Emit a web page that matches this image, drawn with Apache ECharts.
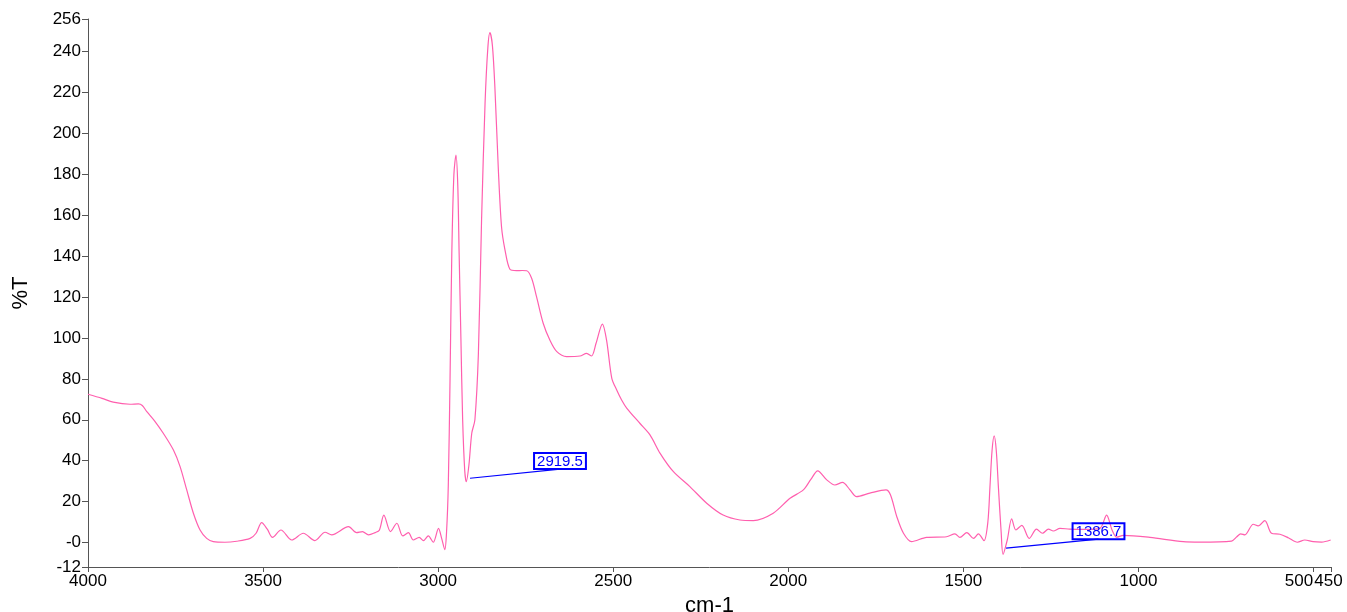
<!DOCTYPE html>
<html>
<head>
<meta charset="utf-8">
<script src="https://cdn.jsdelivr.net/npm/echarts@6/dist/echarts.min.js"></script>
<style>html,body{margin:0;padding:0;background:#fff}#c{width:1347px;height:612px}</style>
</head>
<body>
<div id="c"></div>
<script>
// wavenumber (cm-1)
const wavenumbers = [4000,3960,3928,3880,3856,3845,3832,3810,3785,3756,3737,3718,3699,3680,3661,3642,3609,3575,3537,3520,3504,3488,3473,3449,3418,3385,3352,3323,3304,3256,3233,3216,3199,3180,3168,3155,3136,3118,3101,3085,3071,3054,3042,3028,3014,2999,2990,2981,2976,2971,2966,2961,2955,2949,2944,2940,2935,2930,2924,2919.5,2912,2904,2895,2885,2876,2866,2858,2852,2845,2838,2828,2819,2809,2795,2776,2760,2747,2733,2719,2700,2681,2661,2633,2595,2576,2562,2549,2531,2519,2504,2490,2476,2461,2424,2395,2366,2328,2281,2233,2186,2138,2100,2043,1995,1957,1935,1916,1890,1867,1845,1825,1805,1767,1721,1708,1690,1671,1648,1605,1548,1524,1510,1490,1471,1457,1441,1430,1424,1418,1412,1406,1400,1392,1386.7,1374.6,1362,1350,1333,1312,1291,1274,1257,1243,1224,1196,1150,1110,1091,1075,1062,1043,967,872,824,734,719,708,696,672,658,639,620,596,572,546,525,501,477,451];
// transmittance (%T)
const transmittance = [72.5,70.5,68.6,67.6,67.8,67.0,64.0,59.5,53.4,45.2,37.1,25.7,14.3,6.1,2.0,0.4,0.1,0.6,2.0,4.5,9.7,6.5,2.5,6.1,1.2,4.5,0.9,5.0,3.7,7.7,4.8,5.3,3.7,4.8,6.0,13.4,5.3,9.4,3.2,4.8,1.2,2.5,0.9,3.2,0.1,6.9,2.0,-3.5,5,28,80,141,180,189.5,175,141,100,60,35,29.7,38,53.4,60,92.5,157.7,214.8,242,249.3,243,222.9,182.2,154.4,143,133.6,132.9,133,132.9,129.2,120.2,107.2,99.0,93.3,90.9,91.2,92.5,91.2,97.4,106.8,99.0,80.3,74.6,69.7,65.6,58.3,52.6,43.6,34.6,27.3,19.2,13.4,11.0,10.7,14.3,21.6,25.7,31,35.0,30.6,28.1,29.4,26,22.4,24.1,25.7,23.2,12.6,4.5,0.4,2.5,2.8,4.2,2.5,4.8,2.0,4.2,0.9,10,27.3,45,52.1,45,27.3,5,-5.8,1.2,11.6,6.1,8.4,2.0,6.5,4.5,6.5,5.6,6.9,6.5,6.4,6.9,13.4,6,2.6,3.5,2.5,0.4,0.2,0.7,2.8,4.2,3.7,8.9,8.1,10.7,4.5,4.0,2.3,0.1,1.2,0.4,0.2,1.2];
const xTicks = [4000,3500,3000,2500,2000,1500,1000,500,450];
const yTicks = [-12,0,20,40,60,80,100,120,140,160,180,200,220,240,256];
const annotationLabels = ['2919.5','1386.7'];
const annotationFrom = [[2909,31.4],[1378,-2.8]];
const annotationTo = [[2652,35.9],[1114,1.6]];

const FONT = 'Liberation Sans, Arial, sans-serif';
const chart = echarts.init(document.getElementById('c'), null, {renderer:'canvas'});
const data = wavenumbers.map((w,i)=>[w, transmittance[i]]);
const axisLineColor = '#555';
chart.setOption({
  animation:false,
  backgroundColor:'#fff',
  grid:{left:88,right:16,top:19,bottom:45,containLabel:false,outerBoundsMode:'none'},
  xAxis:{
    type:'value', inverse:true, min:450, max:4000,
    name:'cm-1', nameLocation:'middle', nameGap:24,
    nameTextStyle:{fontFamily:FONT,fontSize:22,color:'#000'},
    axisLine:{show:true,onZero:false,lineStyle:{color:axisLineColor,width:1}},
    axisTick:{show:true,length:5,customValues:xTicks,lineStyle:{color:axisLineColor}},
    axisLabel:{
      customValues:xTicks, hideOverlap:false, margin:6,
      fontFamily:FONT,fontSize:17,color:'#000',
      formatter:function(v){
        if(v===500) return '{r|500}';
        if(v===450) return '{l|450}';
        return String(v);
      },
      rich:{
        r:{fontFamily:FONT,fontSize:17,color:'#000',padding:[0,29,0,0]},
        l:{fontFamily:FONT,fontSize:17,color:'#000',padding:[0,5,0,0]}
      }
    },
    splitLine:{show:false}
  },
  yAxis:{
    type:'value', min:-12, max:256,
    name:'%T', nameLocation:'middle', nameGap:56, nameRotate:90,
    nameTextStyle:{fontFamily:FONT,fontSize:22,color:'#000'},
    axisLine:{show:true,onZero:false,lineStyle:{color:axisLineColor,width:1}},
    axisTick:{show:true,length:6,customValues:yTicks,lineStyle:{color:axisLineColor}},
    axisLabel:{
      customValues:yTicks, hideOverlap:false, margin:7,
      fontFamily:FONT,fontSize:17,color:'#000',
      formatter:function(v){ return v===0 ? '-0' : String(v); }
    },
    splitLine:{show:false}
  },
  series:[{
    type:'line', data:data, showSymbol:false, symbol:'none',
    smooth:0.3,
    lineStyle:{color:'#ff5fae',width:1.2},
    markLine:{
      silent:true, symbol:['none','none'],
      label:{show:false},
      lineStyle:{color:'#0000ff',width:1.2,type:'solid'},
      data: annotationLabels.map((t,i)=>[{coord:annotationFrom[i]},{coord:annotationTo[i]}])
    },
    markPoint:{
      silent:true, symbol:'rect', symbolSize:0,
      label:{
        show:true, position:'top', distance:0,
        color:'#0000ff', fontFamily:FONT, fontSize:15, lineHeight:15,
        borderColor:'#0000ff', borderWidth:1, padding:[1,3,0,3],
        backgroundColor:'transparent',
        formatter:function(p){return p.name;}
      },
      data: annotationLabels.map((t,i)=>({name:t, coord:annotationTo[i]}))
    }
  }]
});
</script>
</body>
</html>
